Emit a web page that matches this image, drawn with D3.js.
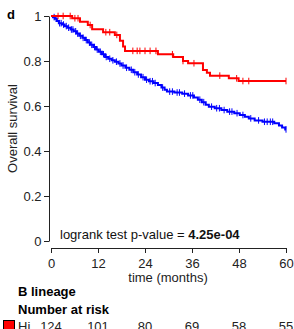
<!DOCTYPE html>
<html>
<head>
<meta charset="utf-8">
<script src="https://cdn.jsdelivr.net/npm/d3@7"></script>
<style>
  body { margin: 0; background: #fff; }
  svg { display: block; font-family: "Liberation Sans", Arial, sans-serif; }
  .axis text { font-size: 13px; fill: #222; }
  .axis path, .axis line { stroke: #222; stroke-width: 1; }
</style>
</head>
<body>
<div class="chart"></div>
<script>
// Hi group (red): step times and survival after each drop
var hiTime = [0, 5.4, 7.4, 9.4, 10.5, 13.3, 16.3, 17.6, 18.4, 18.9, 27.3, 31.2, 33.7, 35.0, 38.8, 39.8, 40.6, 45.4, 47.9];
var hiSurv = [1, 0.990, 0.975, 0.960, 0.941, 0.928, 0.916, 0.890, 0.864, 0.845, 0.830, 0.818, 0.800, 0.790, 0.760, 0.748, 0.735, 0.723, 0.711];
var hiCensor = [1.8, 3.1, 4.9, 6.1, 6.9, 10, 14, 15, 16.8, 20.9, 22, 22.7, 24, 25.3, 26.8, 31, 33.7, 36.5, 43.1, 47.4, 49, 50.5, 60];

// Lo group (blue)
var loTime = [0, 0.5, 1.0, 1.5, 2.0, 2.8, 3.5, 4.2, 5.0, 5.8, 6.5, 7.2, 8.0, 8.7, 9.4, 10.0, 10.8, 11.5, 12.2, 13.0, 13.8, 14.6, 15.5, 16.3, 17.2, 18.0, 19.0, 20.0, 21.0, 22.0, 23.0, 24.0, 25.0, 26.2, 27.3, 28.2, 29.0, 29.6, 31.5, 33.5, 35.0, 36.5, 37.5, 38.5, 39.5, 40.3, 41.8, 43.5, 45.0, 46.8, 48.2, 49.5, 50.5, 52.0, 54.0, 57.0, 58.2, 59.0, 59.8];
var loSurv = [1, 0.995, 0.988, 0.978, 0.968, 0.962, 0.955, 0.948, 0.940, 0.932, 0.922, 0.912, 0.903, 0.893, 0.882, 0.872, 0.862, 0.851, 0.841, 0.830, 0.818, 0.810, 0.803, 0.797, 0.789, 0.780, 0.770, 0.761, 0.750, 0.740, 0.728, 0.717, 0.710, 0.702, 0.693, 0.682, 0.672, 0.664, 0.660, 0.655, 0.647, 0.638, 0.628, 0.617, 0.606, 0.597, 0.590, 0.582, 0.575, 0.568, 0.560, 0.552, 0.545, 0.536, 0.530, 0.523, 0.513, 0.504, 0.496];
var loCensor = [0.8, 1.3, 2.2, 2.6, 3.2, 3.9, 4.5, 5.2, 5.6, 6.3, 6.8, 7.5, 8.2, 9.0, 9.8, 10.4, 11.1, 11.8, 12.6, 13.4, 14.1, 15.0, 15.8, 16.7, 17.6, 18.4, 19.3, 20.5, 21.4, 22.3, 23.5, 24.4, 25.3, 25.9, 26.6, 28.5, 30.3, 31.0, 32.2, 32.8, 34.1, 35.6, 36.2, 38.0, 39.0, 41.0, 42.3, 43.0, 44.2, 45.6, 46.2, 47.5, 49.0, 51.0, 53.0, 54.5, 55.2, 56.0, 56.6, 60.0];

var xTicks = [0, 12, 24, 36, 48, 60];
var yTicks = [0, 0.2, 0.4, 0.6, 0.8, 1];
var hiAtRisk = [124, 101, 80, 69, 58, 55];

var svgWidth = 294;
var svgHeight = 329;

var svg = d3.select(".chart")
  .append("svg")
  .attr("width", svgWidth)
  .attr("height", svgHeight);

var x = d3.scaleLinear().domain([0, 60]).range([51, 286]);
var y = d3.scaleLinear().domain([0, 1]).range([241, 16]);

// axes
svg.append("g")
  .attr("class", "axis")
  .attr("transform", "translate(49,0)")
  .call(d3.axisLeft(y).tickValues(yTicks).tickSize(5).tickSizeOuter(0).tickPadding(2.5)
    .tickFormat(function(d) { return String(d); }));

svg.append("g")
  .attr("class", "axis")
  .attr("transform", "translate(0,248)")
  .call(d3.axisBottom(x).tickValues(xTicks).tickSize(5).tickSizeOuter(0).tickPadding(5.5));

svg.selectAll(".axis .domain").attr("fill", "none");

// survival curves
function survAt(times, surv, t) {
  var i = d3.bisectRight(times, t) - 1;
  return surv[Math.max(i, 0)];
}

function drawCurve(times, surv, censor, color) {
  var pts = times.map(function(t, i) { return [t, surv[i]]; });
  pts.push([60, surv[surv.length - 1]]);
  var line = d3.line()
    .x(function(d) { return x(d[0]); })
    .y(function(d) { return y(d[1]); })
    .curve(d3.curveStepAfter);
  svg.append("path")
    .attr("d", line(pts))
    .attr("fill", "none")
    .attr("stroke", color)
    .attr("stroke-width", 2);
  svg.append("g").selectAll("line")
    .data(censor)
    .enter().append("line")
    .attr("x1", function(d) { return x(d); })
    .attr("x2", function(d) { return x(d); })
    .attr("y1", function(d) { return y(survAt(times, surv, d)) - 3.3; })
    .attr("y2", function(d) { return y(survAt(times, surv, d)) + 3.3; })
    .attr("stroke", color)
    .attr("stroke-width", 1);
}

drawCurve(loTime, loSurv, loCensor, "#0000ff");
drawCurve(hiTime, hiSurv, hiCensor, "#ff0000");

// labels
svg.append("text")
  .attr("x", 7).attr("y", 19)
  .style("font-size", "13px").style("font-weight", "bold")
  .text("d");

svg.append("text")
  .attr("transform", "translate(16.5," + ((16 + 241) / 2) + ") rotate(-90)")
  .attr("text-anchor", "middle")
  .style("font-size", "13px").style("fill", "#222")
  .text("Overall survival");

var pv = svg.append("text")
  .attr("x", 60).attr("y", 239)
  .style("font-size", "13px").style("fill", "#111");
pv.append("tspan").text("logrank test p-value = ");
pv.append("tspan").style("font-weight", "bold").text("4.25e-04");

svg.append("text")
  .attr("x", 168).attr("y", 282)
  .attr("text-anchor", "middle")
  .style("font-size", "13px").style("fill", "#222")
  .text("time (months)");

svg.append("text")
  .attr("x", 18).attr("y", 295.5)
  .style("font-size", "13px").style("font-weight", "bold")
  .text("B lineage");

svg.append("text")
  .attr("x", 18).attr("y", 313.5)
  .style("font-size", "13px").style("font-weight", "bold")
  .text("Number at risk");

// number at risk row
svg.append("rect")
  .attr("x", 3.5).attr("y", 320.5)
  .attr("width", 11).attr("height", 10)
  .attr("fill", "#ff0000").attr("stroke", "#000");

svg.append("text")
  .attr("x", 18).attr("y", 331)
  .style("font-size", "13px").style("fill", "#222")
  .text("Hi");

svg.selectAll(".risk")
  .data(hiAtRisk)
  .enter().append("text")
  .attr("class", "risk")
  .attr("x", function(d, i) { return x(xTicks[i]); })
  .attr("y", 331)
  .attr("text-anchor", "middle")
  .style("font-size", "13px").style("fill", "#222")
  .text(function(d) { return d; });
</script>
</body>
</html>
